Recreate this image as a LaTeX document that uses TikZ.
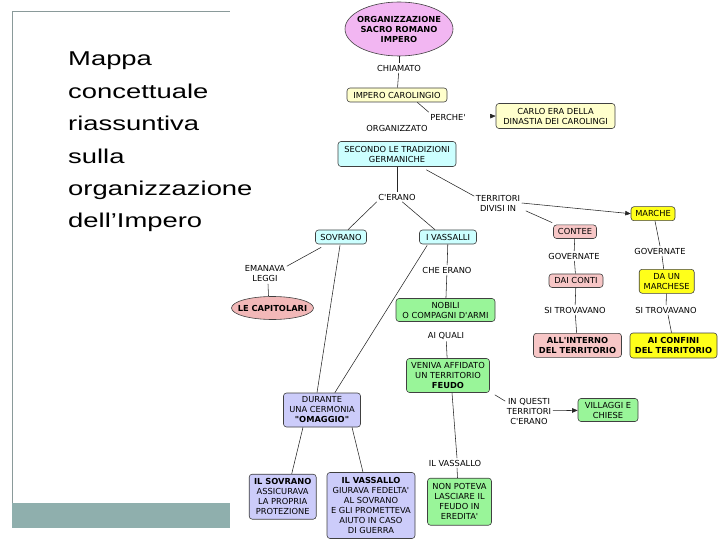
\documentclass[tikz,border=0pt]{standalone}
\usepackage{fontspec}
\newfontfamily\mapfont{DejaVu Sans}
\newfontfamily\titlefont[FakeStretch=1.37]{Liberation Sans}
\usetikzlibrary{shapes.geometric,arrows.meta}
\definecolor{cPurple}{HTML}{F2B6F2}
\definecolor{cLYel}{HTML}{FFFFCC}
\definecolor{cCyan}{HTML}{CCFFFF}
\definecolor{cPink}{HTML}{F7C6C6}
\definecolor{cPinkO}{HTML}{F2B8B8}
\definecolor{cGreen}{HTML}{99F599}
\definecolor{cYel}{HTML}{FFFF1A}
\definecolor{cLav}{HTML}{CCCCFA}
\definecolor{cFrame}{HTML}{8A9A9A}
\definecolor{cBand}{HTML}{8FAFAD}
\begin{document}
\begin{tikzpicture}[x=1pt,y=-1pt,
  mf/.style={font=\mapfont\fontsize{8.3}{10}\selectfont},
  box/.style={mf, draw=black!75, line width=0.6pt, rounded corners=3pt, inner sep=0pt, align=center},
  lbl/.style={mf, inner sep=1.5pt, align=center},
  oval/.style={ellipse, draw=black!75, line width=0.6pt, inner sep=0pt},
  link/.style={draw=black!85, line width=0.55pt},
  arr/.style={link, -{Triangle[length=5.5pt,width=4.5pt]}},
  ttl/.style={font=\titlefont\fontsize{20}{24}\selectfont, inner sep=0pt, anchor=base west},
  frameline/.style={draw=cFrame, line width=1pt}
]
\useasboundingbox (0,0) rectangle (720,540);

% slide frame
\draw[frameline] (12.5,12) -- (12.5,528);
\draw[frameline] (12,12) -- (230,12);
\fill[cBand] (12,503) rectangle (230,528);

% title
\node[ttl] (t1) at (68,66) {Mappa};
\node[ttl] (t2) at (68,98.4) {concettuale};
\node[ttl] (t3) at (68,130.8) {riassuntiva};
\node[ttl] (t4) at (68,163.2) {sulla};
\node[ttl] (t5) at (68,195.6) {organizzazione};
\node[ttl] (t6) at (68,228) {dell’Impero};

% concept nodes
\node[oval, fill=cPurple, minimum width=108pt, minimum height=54pt] (top) at (399,29) {};
\node[mf, align=center, inner sep=0pt] (toptxt) at (399,29.5) {\bfseries ORGANIZZAZIONE\\\bfseries SACRO ROMANO\\\bfseries IMPERO};
\node[lbl] (chiamato) at (399,68) {CHIAMATO};
\node[box, fill=cLYel, minimum width=100pt, minimum height=14pt] (impero) at (397,95) {IMPERO CAROLINGIO};
\node[lbl] (perche) at (448,117) {PERCHE'};
\node[box, fill=cLYel, minimum width=119pt, minimum height=25pt] (carlo) at (555.5,116) {CARLO ERA DELLA\\DINASTIA DEI CAROLINGI};
\node[lbl] (organizzato) at (397,128) {ORGANIZZATO};
\node[box, fill=cCyan, minimum width=118pt, minimum height=25pt] (secondo) at (397,154) {SECONDO LE TRADIZIONI\\GERMANICHE};
\node[lbl] (cerano) at (397,197) {C'ERANO};
\node[lbl] (territori) at (498,203) {TERRITORI\\DIVISI IN};
\node[box, fill=cCyan, minimum width=51pt, minimum height=14pt] (sovrano) at (341,237) {SOVRANO};
\node[box, fill=cCyan, minimum width=57pt, minimum height=14pt] (vassalli) at (448,237) {I VASSALLI};
\node[lbl] (emanava) at (265,274) {EMANAVA\\LEGGI};
\node[oval, fill=cPinkO, minimum width=82pt, minimum height=23pt] (capitolari) at (272.5,308) {};
\node[mf, inner sep=0pt] (capitxt) at (272.5,308.5) {\bfseries LE CAPITOLARI};
\node[lbl] (cheerano) at (447,270) {CHE ERANO};
\node[box, fill=cGreen, minimum width=99pt, minimum height=23pt] (nobili) at (445.5,310) {NOBILI\\O COMPAGNI D'ARMI};
\node[lbl] (aiquali) at (446,336) {AI QUALI};
\node[box, fill=cGreen, minimum width=83pt, minimum height=34pt] (veniva) at (448,375.5) {VENIVA AFFIDATO\\UN TERRITORIO\\\textbf{FEUDO}};
\node[box, fill=cLav, minimum width=77pt, minimum height=34pt] (durante) at (322,410) {DURANTE\\UNA CERMONIA\\\textbf{"OMAGGIO"}};
\node[box, fill=cLav, minimum width=67pt, minimum height=45pt] (ilsovrano) at (282.7,496.7) {\textbf{IL SOVRANO}\\ASSICURAVA\\LA PROPRIA\\PROTEZIONE};
\node[box, fill=cLav, minimum width=88pt, minimum height=66pt] (ilvassallo) at (371,505.5) {\textbf{IL VASSALLO}\\GIURAVA FEDELTA'\\AL SOVRANO\\E GLI PROMETTEVA\\AIUTO IN CASO\\DI GUERRA};
\node[lbl] (ilvasslbl) at (455,463) {IL VASSALLO};
\node[box, fill=cGreen, minimum width=64pt, minimum height=47pt] (nonpoteva) at (459.5,501.7) {NON POTEVA\\LASCIARE IL\\FEUDO IN\\EREDITA'};
\node[lbl] (inquesti) at (529,411) {IN QUESTI\\TERRITORI\\C'ERANO};
\node[box, fill=cGreen, minimum width=60pt, minimum height=23pt] (villaggi) at (608,410) {VILLAGGI E\\CHIESE};
\node[box, fill=cYel, minimum width=44pt, minimum height=14pt] (marche) at (653,213.7) {MARCHE};
\node[box, fill=cPink, minimum width=43pt, minimum height=13.5pt] (contee) at (575,231.7) {CONTEE};
\node[lbl] (govl) at (574,256) {GOVERNATE};
\node[box, fill=cPink, minimum width=54pt, minimum height=13.5pt] (daiconti) at (576,280.7) {DAI CONTI};
\node[lbl] (sitrovl) at (575,310) {SI TROVAVANO};
\node[box, fill=cPink, minimum width=88pt, minimum height=24pt] (allinterno) at (577.5,345.3) {\textbf{ALL'INTERNO}\\\textbf{DEL TERRITORIO}};
\node[lbl] (govr) at (660,251) {GOVERNATE};
\node[box, fill=cYel, minimum width=55pt, minimum height=24pt] (daun) at (666.7,281.3) {DA UN\\MARCHESE};
\node[lbl] (sitrovr) at (666,310) {SI TROVAVANO};
\node[box, fill=cYel, minimum width=87pt, minimum height=25pt] (aiconfini) at (673.5,345.5) {\textbf{AI CONFINI}\\\textbf{DEL TERRITORIO}};

% connectors
\draw[link] (top) -- (chiamato);
\draw[link] (chiamato) -- (impero);
\draw[link] ([xshift=-30pt]impero.south east) -- (perche.north west);
\draw[arr, shorten <=24pt] (perche.east) -- (carlo.west);
\draw[link] (secondo) -- (cerano);
\draw[link] ([xshift=-30pt,yshift=-3pt]secondo.south east) -- ([yshift=-3pt]territori.north west);
\draw[link] (cerano.south west) -- ([xshift=7pt]sovrano.north);
\draw[link] ([xshift=-15pt]cerano.south east) -- ([xshift=-13pt]vassalli.north);
\draw[link] ([xshift=6pt,yshift=-3pt]sovrano.south west) -- ([yshift=-2pt]emanava.north east);
\draw[link] ([xshift=3pt]emanava.south) -- ([xshift=-4pt]capitolari.north);
\draw[link] ([xshift=-1pt,yshift=-1pt]sovrano.south) -- ([xshift=-5pt]durante.north);
\draw[link] ([xshift=8pt,yshift=-1pt]vassalli.south west) -- ([xshift=-26pt]durante.north east);
\draw[link] (vassalli) -- (cheerano);
\draw[link] (cheerano) -- (nobili);
\draw[link] (aiquali) -- (veniva);
\draw[link] ([xshift=-19pt]durante.south) -- ([xshift=9pt]ilsovrano.north);
\draw[link] ([xshift=30pt]durante.south) -- ([xshift=-8pt]ilvassallo.north);
\draw[link] ([xshift=4pt]veniva.south) -- ([xshift=2pt]ilvasslbl.north);
\draw[link] ([xshift=2pt]ilvasslbl.south) -- ([xshift=-2pt]nonpoteva.north);
\draw[link] ([xshift=5pt,yshift=-2pt]veniva.south east) -- ([yshift=-5pt]inquesti.north west);
\draw[arr] (inquesti) -- (villaggi);
\draw[arr] (territori.east) -- (marche.west);
\draw[link] ([xshift=4pt,yshift=2pt]territori.south east) -- ([xshift=-1pt,yshift=2pt]contee.north west);
\draw[link] (contee) -- (govl);
\draw[link] (govl) -- (daiconti);
\draw[link] (daiconti) -- (sitrovl);
\draw[link] (sitrovl) -- (allinterno);
\draw[link] ([xshift=2pt]marche.south) -- (govr.north);
\draw[link] ([xshift=2pt]govr.south) -- ([xshift=-3pt]daun.north);
\draw[link] (daun) -- (sitrovr);
\draw[link] ([xshift=2pt]sitrovr.south) -- ([xshift=-2pt]aiconfini.north);
\end{tikzpicture}
\end{document}
